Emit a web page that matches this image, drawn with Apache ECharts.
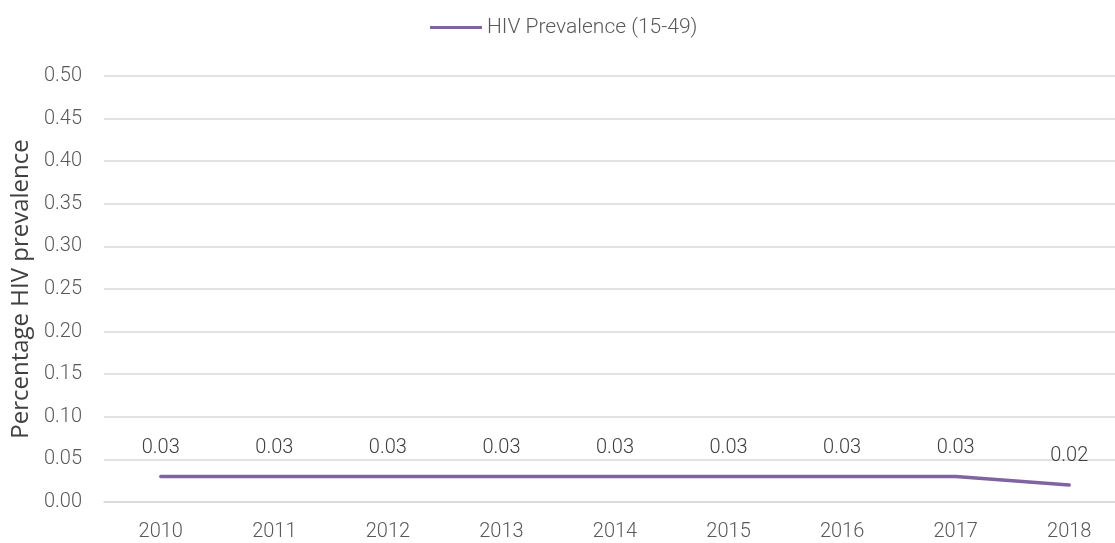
<!DOCTYPE html>
<html>
<head>
<meta charset="utf-8">
<script src="https://cdn.jsdelivr.net/npm/echarts@6/dist/echarts.min.js"></script>
<style>
html,body{margin:0;padding:0;background:#fff;}
#main{width:1115px;height:543px;}
</style>
</head>
<body>
<div id="main"></div>
<script>
var years = ['2010', '2011', '2012', '2013', '2014', '2015', '2016', '2017', '2018'];
var prevalence = [0.03, 0.03, 0.03, 0.03, 0.03, 0.03, 0.03, 0.03, 0.02];
var seriesName = 'HIV Prevalence (15-49)';
var yTicks = { min: 0, max: 0.5, interval: 0.05 };

/*HIV 流行率折线图*/
function drawChart(){
	var chart = echarts.init(document.getElementById('main'));
	var option = {
		color : [ '#8064a2' ],
		textStyle : { fontFamily : 'Roboto' },
		legend : {
			top : 12,
			left : 425,
			icon : 'rect',
			itemWidth : 52,
			itemHeight : 3,
			itemGap : 5,
			textStyle : { fontSize : 21, fontWeight : 300, color : '#595959' },
			data : [ seriesName ]
		},
		grid : {
			left : 104,
			width : 1022,
			top : 76,
			bottom : 41,
			outerBoundsMode : 'none',
			containLabel : false
		},
		xAxis : {
			type : 'category',
			data : years,
			boundaryGap : true,
			axisLine : { lineStyle : { color : '#d9d9d9', width : 1.5 } },
			axisTick : { show : false },
			axisLabel : { fontSize : 20, fontWeight : 300, color : '#595959', margin : 20 }
		},
		yAxis : {
			type : 'value',
			min : yTicks.min,
			max : yTicks.max,
			interval : yTicks.interval,
			name : 'Percentage HIV prevalence',
			nameLocation : 'middle',
			nameGap : 70,
			nameTextStyle : { fontFamily : 'Open Sans', fontSize : 24, color : '#404040' },
			axisLine : { show : false },
			axisTick : { show : false },
			splitLine : { lineStyle : { color : '#d9d9d9', width : 1.5 } },
			axisLabel : {
				fontSize : 20, fontWeight : 300, color : '#595959', margin : 22,
				formatter : function(v){ return v.toFixed(2); }
			}
		},
		series : [ {
			name : seriesName,
			type : 'line',
			data : prevalence,
			symbol : 'circle',
			symbolSize : 1,
			showSymbol : true,
			lineStyle : { width : 3.5, cap : 'round' },
			label : {
				show : true,
				position : 'top',
				distance : 18,
				fontSize : 20,
				fontWeight : 300,
				color : '#404040',
				formatter : function(p){ return p.value.toFixed(2); }
			}
		} ]
	};
	chart.setOption(option);
}

drawChart();
</script>
</body>
</html>
